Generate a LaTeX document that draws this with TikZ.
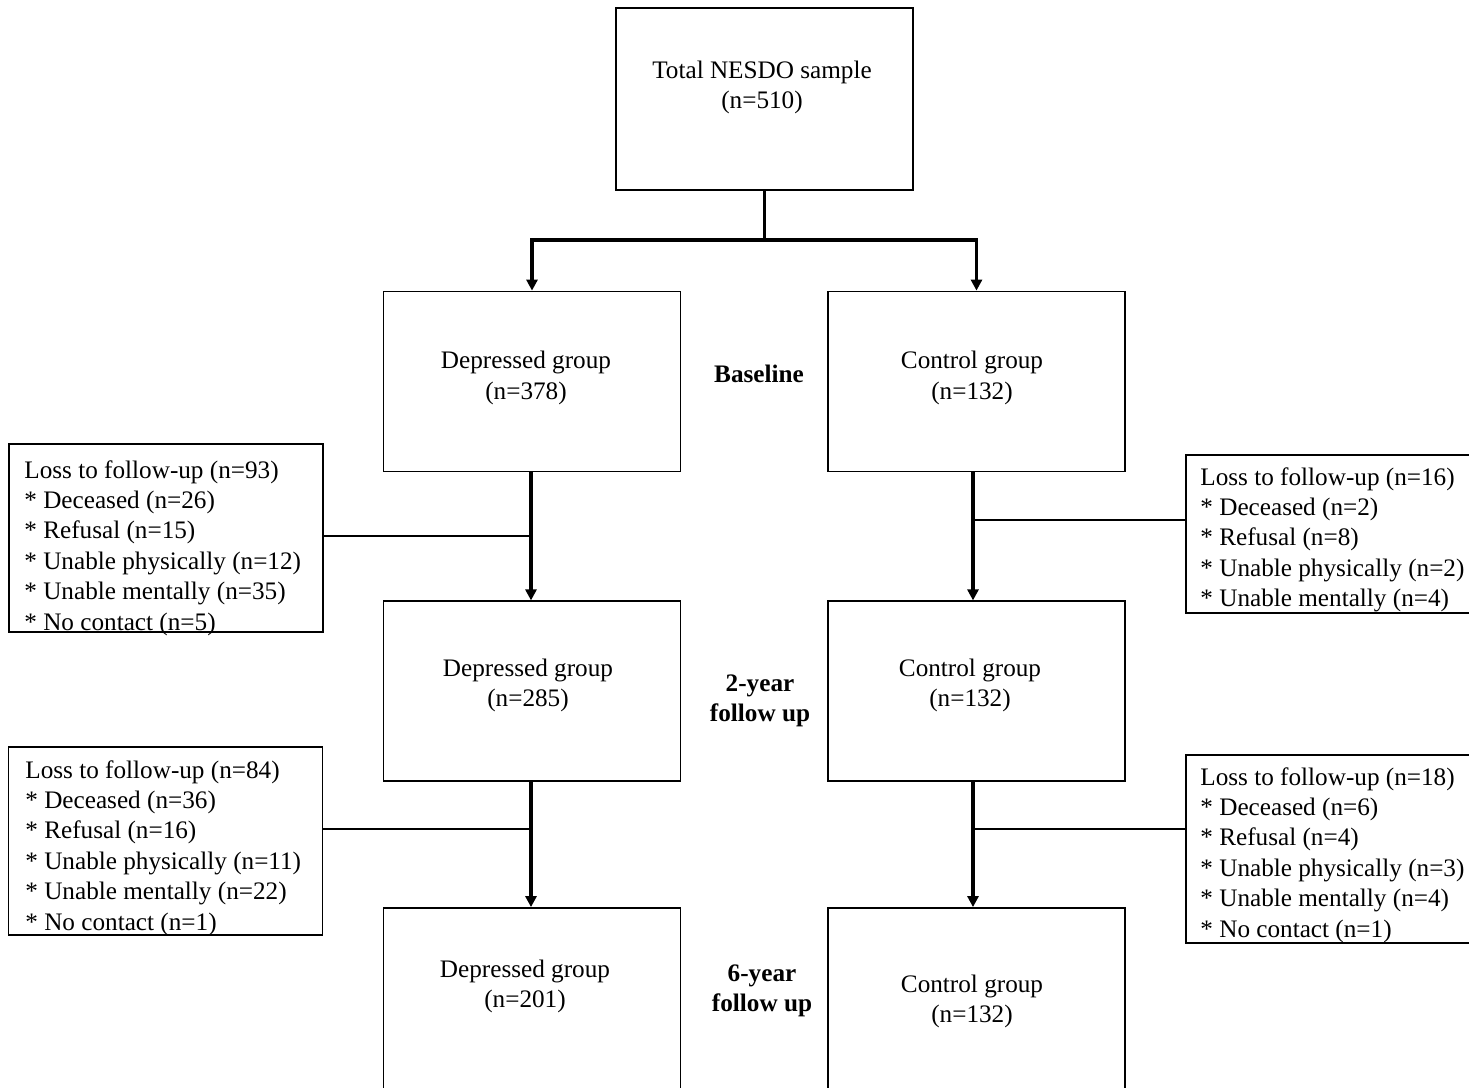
\documentclass[tikz,border=0pt]{standalone}
\usepackage{fontspec}
\setmainfont{Liberation Serif}
\usetikzlibrary{arrows.meta,positioning,calc}

\begin{document}
\begin{tikzpicture}[
  x=0.5pt, y=-0.5pt,
  font=\fontsize{12.6}{15.2}\selectfont,
  frame/.style={draw, line width=0.9pt, inner sep=0pt},
  grp/.style={frame, minimum width=148.5pt, minimum height=90pt},
  loss/.style={frame, minimum width=157pt, minimum height=94pt},
  lbl/.style={align=center, inner sep=0pt},
  lst/.style={align=left, anchor=north west, inner sep=0pt},
  phase/.style={lbl, font=\fontsize{12.6}{15}\selectfont\bfseries},
  arr/.style={-{Triangle[length=5.5pt, width=5.5pt]}, line width=1.6pt},
  link/.style={line width=0.8pt},
]
\useasboundingbox (0,0) rectangle (1469,1088);
% group boxes
\node[grp, minimum height=91pt] (tot) at (764.5,99) {};
\node[grp] (depB) at (532,381.5) {};
\node[grp] (conB) at (976.5,381.5) {};
\node[grp] (dep2) at (532,691.3) {};
\node[grp] (con2) at (976.5,691.3) {};
\node[grp, minimum height=95pt] (dep6) at (532,1003) {};
\node[grp, minimum height=95pt] (con6) at (976.5,1003) {};
\node[lbl] (totT) at (762,87.5) {Total NESDO sample\\(n=510)};
\node[lbl] (depBT) at (526,378) {Depressed group\\(n=378)};
\node[lbl] (conBT) at (972,378) {Control group\\(n=132)};
\node[lbl] (dep2T) at (528,685.5) {Depressed group\\(n=285)};
\node[lbl] (con2T) at (970,685.5) {Control group\\(n=132)};
\node[lbl] (dep6T) at (525,986.5) {Depressed group\\(n=201)};
\node[lbl] (con6T) at (972,1001.5) {Control group\\(n=132)};
% phases
\node[phase] (base) at (759,373.5) {Baseline};
\node[phase] (fu2) at (760,701) {2-year\\follow up};
\node[phase] (fu6) at (762,991) {6-year\\follow up};
% losses
\node[loss] (lossA) at (165.8,538) {};
\node[loss, minimum height=79pt] (lossB) at (1343,534) {};
\node[loss] (lossC) at (165.4,841) {};
\node[loss] (lossD) at (1343,849) {};
\node[lst] (lossAT) at (24,460) {Loss to follow-up (n=93)\\* Deceased (n=26)\\* Refusal (n=15)\\* Unable physically (n=12)\\* Unable mentally (n=35)\\* No contact (n=5)};
\node[lst] (lossBT) at (1200,467) {Loss to follow-up (n=16)\\* Deceased (n=2)\\* Refusal (n=8)\\* Unable physically (n=2)\\* Unable mentally (n=4)};
\node[lst] (lossCT) at (25,760) {Loss to follow-up (n=84)\\* Deceased (n=36)\\* Refusal (n=16)\\* Unable physically (n=11)\\* Unable mentally (n=22)\\* No contact (n=1)};
\node[lst] (lossDT) at (1200,767) {Loss to follow-up (n=18)\\* Deceased (n=6)\\* Refusal (n=4)\\* Unable physically (n=3)\\* Unable mentally (n=4)\\* No contact (n=1)};
% connectors
\coordinate (split) at (764.5,240);
\draw[arr] (tot.south) -- (split) -| (depB.north);
\draw[arr] (split) -| (conB.north);
\coordinate (jA) at (531,536);
\coordinate (jB) at (973,520);
\coordinate (jC) at (531,829);
\coordinate (jD) at (973,829);
\draw[arr] (jA |- depB.south) -- (jA |- dep2.north);
\draw[arr] (jB |- conB.south) -- (jB |- con2.north);
\draw[arr] (jC |- dep2.south) -- (jC |- dep6.north);
\draw[arr] (jD |- con2.south) -- (jD |- con6.north);
\draw[link] (lossA.east |- jA) -- (jA);
\draw[link] (jB) -- (lossB.west |- jB);
\draw[link] (lossC.east |- jC) -- (jC);
\draw[link] (jD) -- (lossD.west |- jD);
\end{tikzpicture}
\end{document}
